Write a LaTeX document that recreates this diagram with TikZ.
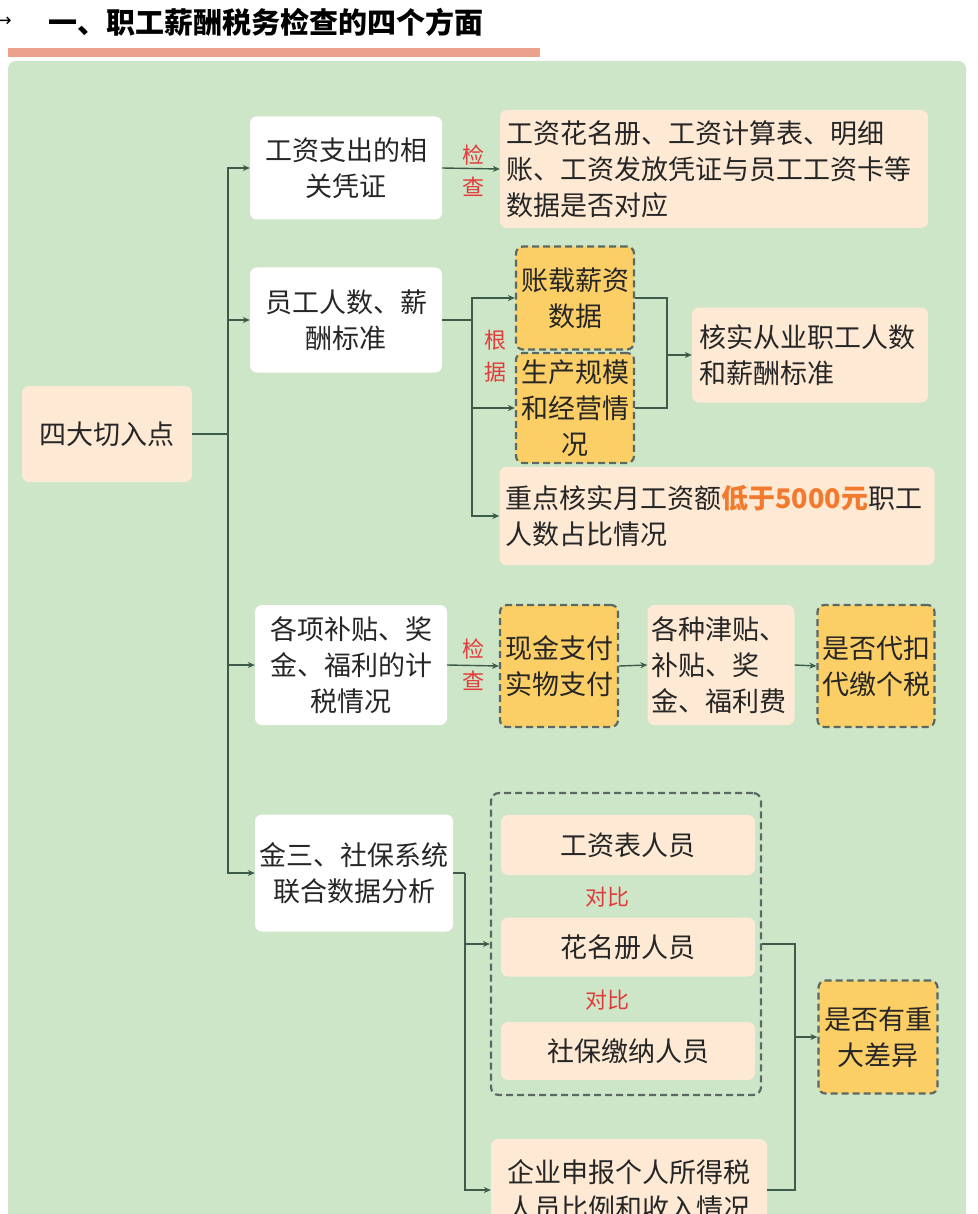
\documentclass[tikz,border=0pt]{standalone}
\usepackage{fontspec}
\setmainfont{Noto Sans CJK SC}
\newfontfamily\symfont{DejaVu Sans}
\usepackage{tikz}
\usetikzlibrary{arrows.meta,positioning}
\definecolor{panel}{HTML}{CDE6C8}
\definecolor{peach}{HTML}{FDE9D4}
\definecolor{gold}{HTML}{FBCF66}
\definecolor{wire}{HTML}{3E5A48}
\definecolor{dashgray}{HTML}{5B6965}
\definecolor{redlab}{HTML}{E23B3B}
\definecolor{hot}{HTML}{F27A2E}
\definecolor{bar}{HTML}{EBA18B}
\begin{document}
\begin{tikzpicture}[x=1pt,y=-1pt,inner sep=0pt]
  \tikzstyle{box}=[rounded corners=7pt,font=\fontsize{27}{36}\selectfont,text=black!85]
  \tikzstyle{wb}=[box,fill=white,align=center]
  \tikzstyle{pb}=[box,fill=peach]
  \tikzstyle{gb}=[box,fill=gold,draw=dashgray,line width=2.2pt,dash pattern=on 7pt off 4pt,align=center]
  \tikzstyle{lb}=[text=redlab,font=\fontsize{22}{32}\selectfont,align=center]
  \useasboundingbox(0,0)rectangle(977,1214);
  \fill[white](0,0)rectangle(977,1214);
  \fill[panel,rounded corners=8pt](8,61)rectangle(966,1250);
  \fill[bar](8,48)rectangle(540,57);
  \node[anchor=west,font=\fontsize{29}{30}\selectfont\bfseries](title)at(48,22){一、职工薪酬税务检查的四个方面};
  \node[anchor=east,font=\symfont\fontsize{18}{18}\selectfont](mk)at(12,22){→};
  % left column
  \node[pb,align=center,minimum width=170pt,minimum height=96pt](root)at(107,434){四大切入点};
  \node[wb,minimum width=192pt,minimum height=103pt](w1)at(346,168){工资支出的相\\关凭证};
  \node[wb,minimum width=192pt,minimum height=105pt](w2)at(346,320){员工人数、薪\\酬标准};
  \node[wb,minimum width=192pt,minimum height=120pt](w3)at(351,665){各项补贴、奖\\金、福利的计\\税情况};
  \node[wb,minimum width=198pt,minimum height=117pt](w4)at(354,873){金三、社保系统\\联合数据分析};
  % right side
  \node[pb,align=left,text width=416pt,inner xsep=6pt,minimum height=118pt](d1)at(714,169){工资花名册、工资计算表、明细\\账、工资发放凭证与员工工资卡等\\数据是否对应};
  \node[gb,minimum width=118pt,minimum height=103pt](a1)at(575,298){账载薪资\\数据};
  \node[gb,minimum width=118pt,minimum height=110pt](a2)at(575,408){生产规模\\和经营情\\况};
  \node[pb,align=left,text width=222pt,inner xsep=7pt,minimum height=95pt](r2)at(810,355){核实从业职工人数\\和薪酬标准};
  \node[pb,align=left,text width=423pt,inner xsep=6pt,minimum height=98pt](k2)at(717,516){重点核实月工资额{\color{hot}\bfseries 低于5000元}职工\\人数占比情况};
  \node[gb,minimum width=118pt,minimum height=122pt](c1)at(559,666){现金支付\\实物支付};
  \node[pb,align=left,text width=139pt,inner xsep=4pt,minimum height=120pt](c2)at(721,665){各种津贴、\\补贴、奖\\金、福利费};
  \node[gb,minimum width=117pt,minimum height=122pt](c3)at(876,666){是否代扣\\代缴个税};
  \node[draw=dashgray,line width=2.2pt,dash pattern=on 7pt off 4pt,rounded corners=8pt,minimum width=270pt,minimum height=302pt](g)at(626,944){};
  \node[pb,align=center,minimum width=254pt,minimum height=60pt](p1)at(628,845){工资表人员};
  \node[pb,align=center,minimum width=254pt,minimum height=59pt](p2)at(628,947){花名册人员};
  \node[pb,align=center,minimum width=254pt,minimum height=58pt](p3)at(628,1051){社保缴纳人员};
  \node[gb,minimum width=119pt,minimum height=113pt](e4)at(878,1037){是否有重\\大差异};
  \node[pb,align=center,minimum width=276pt,minimum height=102pt](f4)at(629,1190){企业申报个人所得税\\人员比例和收入情况};
  \node[lb](k1)at(473,171){检\\查};
  \node[lb](gj)at(495,356){根\\据};
  \node[lb](k3)at(473,665){检\\查};
  \node[lb](db1)at(607,897){对比};
  \node[lb](db2)at(607,1000){对比};
  % connectors
  \tikzstyle{ln}=[draw=wire,line width=1.4pt]
  \tikzstyle{e}=[ln,-{Stealth[length=7pt,width=6pt]}]
  \coordinate(t)at(228,434);
  \draw[ln](root.east)--(t);
  \foreach\d in{w1,w2,w3,w4}{\draw[e](t)|-(\d.west);}
  \foreach\o/\d in{w1/d1,w3/c1,c1/c2,c2/c3}{\draw[e](\o.east)--(\d.west);}
  \coordinate(b2)at(472,320);
  \draw[ln](w2.east)--(b2);
  \foreach\d in{a1,a2,k2}{\draw[e](b2)|-(\d.west);}
  \coordinate(m2)at(667,355);
  \foreach\o in{a1,a2}{\draw[ln](\o.east)-|(m2);}
  \draw[e](m2)--(r2.west);
  \coordinate(b4)at(465,873);
  \draw[ln](w4.east)--(b4);
  \foreach\d in{g,f4}{\draw[e](b4)|-(\d.west);}
  \coordinate(m4)at(795,1037);
  \foreach\o in{g,f4}{\draw[ln](\o.east)-|(m4);}
  \draw[e](m4)--(e4.west);
\end{tikzpicture}
\end{document}
